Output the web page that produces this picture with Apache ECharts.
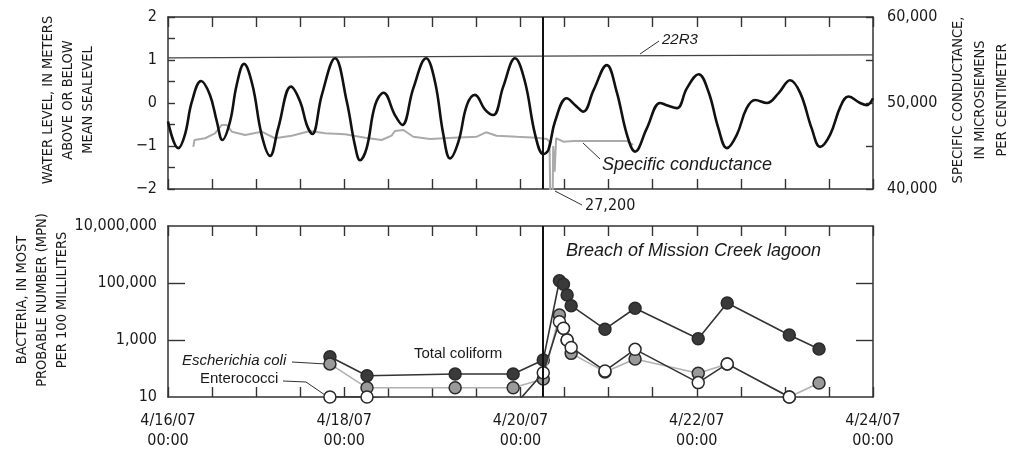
<!DOCTYPE html>
<html>
<head>
<meta charset="utf-8">
<script src="https://cdn.jsdelivr.net/npm/echarts@6/dist/echarts.min.js"></script>
<style>
  html, body { margin: 0; padding: 0; background: #fff; }
  #chart { width: 1014px; height: 451px; }
</style>
</head>
<body>
<div id="chart"></div>
<script>
// time is kept as hours after 4/16/07 00:00
// water level (m)
const waterHours = [0, 2.8, 4.6, 6.5, 9.0, 11.4, 13.3, 14.8, 16.9, 18.7, 20.7, 23.0, 25.5, 27.8, 30.0, 33.5, 36.0, 37.8, 39.3, 41.9,
  45.5, 48.7, 50.9, 52.3, 54.1, 56.4, 58.7, 61.8, 63.8, 66.8, 70.3, 72.7, 75.0, 76.8, 79.1, 81.4, 83.6, 86.4, 88.6, 91.3,
  94.5, 97.2, 100.0, 102.2, 103.6, 105.4, 108.6, 110.9, 113.1, 115.9, 119.5, 122.2, 125.0, 127.2, 130.4, 134.0, 135.8, 138.6, 141.3, 144.5,
  147.2, 149.9, 152.2, 154.9, 157.6, 159.9, 163.1, 166.3, 169.4, 172.2, 175.3, 177.6, 180.3, 183.1, 185.3, 188.5, 190.3, 192]
const waterLevel = [-0.43, -1.05, -0.74, 0.03, 0.51, 0.19, -0.43, -0.86, -0.43, 0.42, 0.91, 0.42, -0.74, -1.23, -0.59, 0.38, 0.03, -0.51, -0.72, 0.19,
  1.04, 0.03, -0.98, -1.33, -1.05, -0.05, 0.24, -0.28, -0.51, 0.34, 1.04, 0.50, -0.74, -1.29, -0.90, -0.05, 0.19, -0.16, -0.28, 0.38,
  1.04, 0.50, -0.74, -1.19, -1.09, -0.43, 0.11, -0.05, -0.20, 0.30, 0.88, 0.26, -0.74, -1.13, -0.59, 0.0, -0.05, -0.12, 0.34, 0.67,
  0.26, -0.59, -1.05, -0.74, -0.12, 0.07, 0.00, 0.23, 0.53, 0.23, -0.59, -1.02, -0.74, -0.09, 0.15, 0.00, -0.05, 0.11]

// well 22R3
const wellHours = [0, 100, 192]
const wellLevel = [1.05, 1.09, 1.12]

// specific conductance (microsiemens/cm)
const condHours = [6.9, 7.2, 10.1, 12.8, 14.6, 16.0, 17.4, 21.0, 25.5, 29.1, 33.7, 38.7, 42.8, 48.2, 53.7, 58.2, 60.9, 61.8, 64.1, 66.8,
  71.4, 77.7, 84.1, 86.6, 89.5, 95.0, 100.4, 103.2, 103.9, 104.5, 104.9, 105.3, 105.7, 107.7, 110.4, 113.1, 124.9, 126.7]
const condValues = [44900, 45700, 45900, 46480, 47440, 47440, 46660, 46280, 46660, 45900, 46200, 46740, 46480, 46360, 45970, 45700, 46200, 46740, 46860, 46080,
  45810, 45970, 46080, 46590, 46200, 46080, 45970, 45810, 45500, 27200, 45000, 42000, 45900, 45500, 45580, 45580, 45580, 45120]

// bacteria samples (MPN / 100 mL)
const bactHours = [44.1, 54.2, 78.2, 94.0, 102.2, 106.6, 107.7, 108.7, 109.8, 119.0, 127.2, 144.4, 152.3, 169.2, 177.3]
const totalColiform = [257, 56, 64, 64, 200, 120000, 91000, 38000, 16000, 2400, 13000, 1100, 20000, 1500, 480]
const eColi = [145, 21, 21, 21, 43, 7500, 2600, 1000, 340, 76, 215, 68, 145, 10, 31]
const enterococci = [10, 10, 5, 4.5, 71, 4400, 2600, 1000, 550, 82, 470, 32, 145, 10, null]

const breachHour = 102
const dateLabels = ['4/16/07', '4/18/07', '4/20/07', '4/22/07', '4/24/07']
const bactTicks = [1000, 100000]
const bactLabels = [10, 1000, 100000, 10000000]

const pairs = (xs, ys) => xs.map((x, i) => [x, ys[i]])

const narrow = '"DejaVu Sans Condensed", "Liberation Sans Narrow", sans-serif'
const plain = '"Liberation Sans", Arial, sans-serif'
const ink = '#1a1a1a'
const frame = '#333'

const comma = v => Math.round(v).toLocaleString('en-US')
const minus = v => (v < 0 ? '\u2212' + Math.abs(v) : '' + v)

function xAxisDef(grid, pos, labels) {
  return {
    type: 'value', gridIndex: grid, position: pos,
    min: 0, max: 192, interval: 12,
    axisLine: { show: true, onZero: false, lineStyle: { color: frame, width: 1.5 } },
    axisTick: { show: true, inside: true, length: 10, lineStyle: { color: frame, width: 1.4 } },
    axisLabel: labels ? {
      show: true, margin: 14, showMinLabel: true, showMaxLabel: true,
      fontFamily: narrow, fontSize: 16, color: ink, lineHeight: 20,
      formatter: v => (v % 48 === 0 ? dateLabels[v / 48] + '\n00:00' : '')
    } : { show: false },
    splitLine: { show: false }
  }
}

function logAxis(pos, labels) {
  return {
    type: 'log', logBase: 10, gridIndex: 1, position: pos, min: 10, max: 10000000,
    axisLine: { show: true, onZero: false, lineStyle: { color: frame, width: 1.5 } },
    axisTick: { show: true, inside: true, length: 17, lineStyle: { color: frame, width: 1.4 }, customValues: bactTicks },
    axisLabel: labels ? { show: true, customValues: bactLabels, margin: 11, fontFamily: narrow, fontSize: 16, color: ink, formatter: comma } : { show: false },
    splitLine: { show: false }
  }
}

function bactSeries(name, values, fill, lineColor, z) {
  return {
    name, type: 'line', xAxisIndex: 2, yAxisIndex: 2, z,
    data: pairs(bactHours, values),
    symbol: 'circle', symbolSize: 12, showAllSymbol: true,
    lineStyle: { color: lineColor, width: 1.6 },
    itemStyle: { color: fill, borderColor: '#2a2a2a', borderWidth: 1.5 },
    clip: true
  }
}

const breach = {
  silent: true, symbol: ['none', 'none'], label: { show: false },
  lineStyle: { color: '#111', width: 2, type: 'solid' },
  data: [{ xAxis: breachHour }]
}

const chart = echarts.init(document.getElementById('chart'))
chart.setOption({
  animation: false,
  backgroundColor: '#fff',
  grid: [
    { left: 168, top: 17, width: 705, height: 172, outerBoundsMode: 'none' },
    { left: 168, top: 226, width: 705, height: 171, outerBoundsMode: 'none' }
  ],
  xAxis: [
    xAxisDef(0, 'bottom', false),
    xAxisDef(0, 'top', false),
    xAxisDef(1, 'bottom', true),
    xAxisDef(1, 'top', false)
  ],
  yAxis: [
    {
      type: 'value', gridIndex: 0, position: 'left', min: -2, max: 2, interval: 0.5,
      axisLine: { show: true, onZero: false, lineStyle: { color: frame, width: 1.5 } },
      axisTick: { show: true, inside: true, length: 7, lineStyle: { color: frame, width: 1.4 } },
      axisLabel: { margin: 11, fontFamily: narrow, fontSize: 16, color: ink, formatter: v => (Number.isInteger(v) ? minus(v) : '') },
      splitLine: { show: false }
    },
    {
      type: 'value', gridIndex: 0, position: 'right', min: 40000, max: 60000, interval: 5000,
      axisLine: { show: true, onZero: false, lineStyle: { color: frame, width: 1.5 } },
      axisTick: { show: true, inside: true, length: 7, lineStyle: { color: frame, width: 1.4 } },
      axisLabel: { margin: 14, fontFamily: narrow, fontSize: 16, color: ink, formatter: v => (v % 10000 === 0 ? comma(v) : '') },
      splitLine: { show: false }
    },
    logAxis('left', true),
    logAxis('right', false)
  ],
  series: [
    {
      name: '22R3', type: 'line', xAxisIndex: 0, yAxisIndex: 0,
      data: pairs(wellHours, wellLevel), showSymbol: false,
      lineStyle: { color: '#444', width: 1.3 }
    },
    {
      name: 'Specific conductance', type: 'line', xAxisIndex: 0, yAxisIndex: 1,
      data: pairs(condHours, condValues), showSymbol: false, clip: true,
      lineStyle: { color: '#aaa', width: 2 }
    },
    {
      name: 'Water level', type: 'line', xAxisIndex: 0, yAxisIndex: 0,
      data: pairs(waterHours, waterLevel), showSymbol: false, smooth: 0.4,
      lineStyle: { color: '#111', width: 2.6 },
      markLine: breach
    },
    Object.assign(bactSeries('Total coliform', totalColiform, '#3a3a3a', '#333', 2), { markLine: breach }),
    bactSeries('Escherichia coli', eColi, '#9a9a9a', '#b0b0b0', 3),
    bactSeries('Enterococci', enterococci, '#fff', '#333', 4)
  ],
  graphic: [
    { type: 'text', x: 68, y: 100, rotation: Math.PI / 2,
      style: { text: 'WATER LEVEL, IN METERS\nABOVE OR BELOW\nMEAN SEALEVEL', fontFamily: narrow, fontSize: 14.5, lineHeight: 20, fill: ink, align: 'center', verticalAlign: 'middle' } },
    { type: 'text', x: 42, y: 300, rotation: Math.PI / 2,
      style: { text: 'BACTERIA, IN MOST\nPROBABLE NUMBER (MPN)\nPER 100 MILLILITERS', fontFamily: narrow, fontSize: 14.5, lineHeight: 20, fill: ink, align: 'center', verticalAlign: 'middle' } },
    { type: 'text', x: 980, y: 100, rotation: Math.PI / 2,
      style: { text: 'SPECIFIC CONDUCTANCE,\nIN MICROSIEMENS\nPER CENTIMETER', fontFamily: narrow, fontSize: 14.5, lineHeight: 22, fill: ink, align: 'center', verticalAlign: 'middle' } },

    { type: 'text', x: 662, y: 40, style: { text: '22R3', fontFamily: plain, fontStyle: 'italic', fontSize: 15, fill: ink, align: 'left', verticalAlign: 'middle' } },
    { type: 'polyline', shape: { points: [[640, 54], [659, 41]] }, style: { stroke: '#333', lineWidth: 1, fill: null } },

    { type: 'text', x: 602, y: 165, style: { text: 'Specific conductance', fontFamily: plain, fontStyle: 'italic', fontSize: 18, fill: ink, align: 'left', verticalAlign: 'middle' } },
    { type: 'polyline', shape: { points: [[583, 143], [600, 159]] }, style: { stroke: '#333', lineWidth: 1, fill: null } },

    { type: 'text', x: 585, y: 206, style: { text: '27,200', fontFamily: narrow, fontSize: 16, fill: ink, align: 'left', verticalAlign: 'middle' } },
    { type: 'polyline', shape: { points: [[555, 191], [582, 205]] }, style: { stroke: '#333', lineWidth: 1, fill: null } },

    { type: 'text', x: 566, y: 251, style: { text: 'Breach of Mission Creek lagoon', fontFamily: plain, fontStyle: 'italic', fontSize: 18, fill: ink, align: 'left', verticalAlign: 'middle' } },

    { type: 'text', x: 414, y: 354, style: { text: 'Total coliform', fontFamily: plain, fontSize: 15, fill: ink, align: 'left', verticalAlign: 'middle' } },
    { type: 'text', x: 182, y: 361, style: { text: 'Escherichia coli', fontFamily: plain, fontStyle: 'italic', fontSize: 15, fill: ink, align: 'left', verticalAlign: 'middle' } },
    { type: 'polyline', shape: { points: [[292, 362], [326, 364]] }, style: { stroke: '#333', lineWidth: 1, fill: null } },
    { type: 'text', x: 200, y: 379, style: { text: 'Enterococci', fontFamily: plain, fontSize: 15, fill: ink, align: 'left', verticalAlign: 'middle' } },
    { type: 'polyline', shape: { points: [[283, 381], [306, 382], [325, 395]] }, style: { stroke: '#333', lineWidth: 1, fill: null } }
  ]
})
</script>
</body>
</html>
